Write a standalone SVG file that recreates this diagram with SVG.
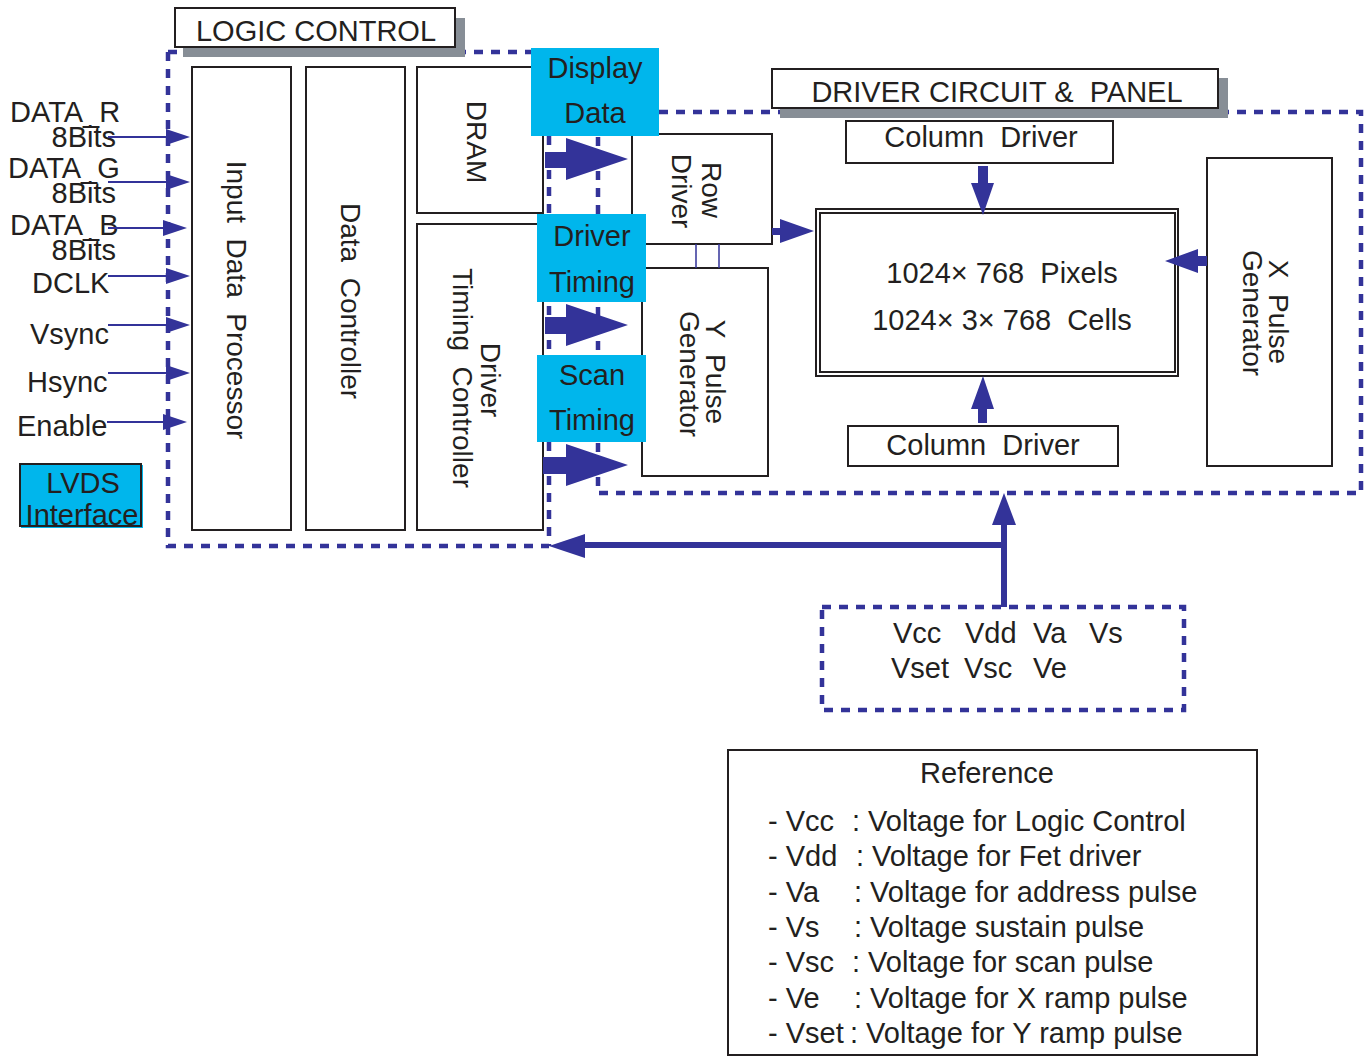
<svg xmlns="http://www.w3.org/2000/svg" width="1364" height="1057" viewBox="0 0 1364 1057">
<style>
text{font-family:"Liberation Sans",Arial,sans-serif;fill:#231f20;font-size:29px}
.r{font-size:28px;text-anchor:middle}
.m{text-anchor:middle}
.box{fill:#fff;stroke:#231f20;stroke-width:2}
.nb{fill:none;stroke:#231f20;stroke-width:2}
.cy{fill:#00b6ec}
.sh{fill:#878e96}
.dash{fill:none;stroke:#333399;stroke-width:4.5;stroke-dasharray:9 8}
.thin{stroke:#333399;stroke-width:2;fill:none}
.thick{stroke:#333399;stroke-width:6;fill:none}
.fb{fill:#333399}
</style>
<rect width="1364" height="1057" fill="#fff"/>

<!-- dashed boundaries -->
<g id="boundaries">
<path class="dash" d="M168,52 H531 M168,52 V546 H549 M549,136 V546"/>
<path class="dash" d="M659,112 H1361 V493 H598 V136"/>
<rect class="dash" x="822" y="607" width="362" height="103"/>
</g>

<!-- titles -->
<g id="logic-control-title">
<rect class="sh" x="183" y="18" width="282" height="39"/>
<rect class="box" x="175" y="8" width="280" height="39"/>
<text x="316" y="41" class="m">LOGIC CONTROL</text>
</g>
<g id="driver-circuit-title">
<rect class="sh" x="780" y="78" width="448" height="40"/>
<rect class="box" x="772" y="69" width="446" height="39"/>
<text x="997" y="102" class="m">DRIVER CIRCUIT &amp;&#160; PANEL</text>
</g>

<!-- logic control nodes -->
<g id="input-data-processor">
<rect class="box" x="192" y="67" width="99" height="463"/>
<text class="r" transform="translate(226.5,300) rotate(90)">Input&#160; Data&#160; Processor</text>
</g>
<g id="data-controller">
<rect class="box" x="306" y="67" width="99" height="463"/>
<text class="r" transform="translate(341,301) rotate(90)">Data&#160; Controller</text>
</g>
<g id="dram">
<rect class="box" x="417" y="67" width="126" height="146"/>
<text class="r" transform="translate(467,142) rotate(90)">DRAM</text>
</g>
<g id="driver-timing-controller">
<rect class="box" x="417" y="224" width="126" height="306"/>
<text class="r" transform="translate(481,380) rotate(90)">Driver</text>
<text class="r" transform="translate(453,378) rotate(90)">Timing&#160; Controller</text>
</g>

<!-- driver circuit nodes -->
<g id="row-driver">
<rect class="box" x="632" y="134" width="140" height="110"/>
<text class="r" transform="translate(702,190) rotate(90)">Row</text>
<text class="r" transform="translate(672,191) rotate(90)">Driver</text>
</g>
<g id="y-pulse-generator">
<rect class="box" x="642" y="268" width="126" height="208"/>
<text class="r" transform="translate(706,372) rotate(90)">Y&#160; Pulse</text>
<text class="r" transform="translate(680,374) rotate(90)">Generator</text>
</g>

<!-- cyan labels -->
<g id="display-data">
<rect class="cy" x="531" y="48" width="128" height="88"/>
<text x="595" y="78" class="m">Display</text>
<text x="595" y="123" class="m">Data</text>
</g>
<g id="driver-timing">
<rect class="cy" x="537" y="214" width="109" height="88"/>
<text x="592" y="246" class="m">Driver</text>
<text x="592" y="292" class="m">Timing</text>
</g>
<g id="scan-timing">
<rect class="cy" x="537" y="355" width="109" height="87"/>
<text x="592" y="385" class="m">Scan</text>
<text x="592" y="430" class="m">Timing</text>
</g>

<g id="column-driver-top">
<rect class="box" x="846" y="121" width="267" height="42"/>
<text x="981" y="147" class="m">Column&#160; Driver</text>
</g>
<g id="panel">
<rect class="box" x="816" y="209" width="362" height="167"/>
<rect class="nb" x="820" y="213" width="355" height="159"/>
<text x="1002" y="283" class="m">1024× 768&#160; Pixels</text>
<text x="1002" y="330" class="m">1024× 3× 768&#160; Cells</text>
</g>
<g id="column-driver-bottom">
<rect class="box" x="848" y="426" width="270" height="40"/>
<text x="983" y="455" class="m">Column&#160; Driver</text>
</g>
<g id="x-pulse-generator">
<rect class="box" x="1207" y="158" width="125" height="308"/>
<text class="r" transform="translate(1269,312) rotate(90)">X&#160; Pulse</text>
<text class="r" transform="translate(1243,313) rotate(90)">Generator</text>
</g>

<!-- power -->
<g id="power-supplies">
<text x="893" y="643">Vcc</text><text x="965" y="643">Vdd</text><text x="1033" y="643">Va</text><text x="1089" y="643">Vs</text>
<text x="891" y="678">Vset</text><text x="964" y="678">Vsc</text><text x="1033" y="678">Ve</text>
</g>

<!-- LVDS -->
<g id="lvds-interface">
<rect class="cy" x="21" y="465" width="122" height="63"/>
<rect class="nb" x="20" y="464" width="121" height="62"/>
<text x="83" y="493" class="m">LVDS</text>
<text x="82" y="525" class="m">Interface</text>
</g>

<!-- input labels -->
<g id="input-labels">
<text x="10" y="122">DATA_R</text>
<text x="116" y="147" text-anchor="end">8Bits</text>
<text x="8" y="178">DATA_G</text>
<text x="116" y="203" text-anchor="end">8Bits</text>
<text x="10" y="235">DATA_B</text>
<text x="116" y="260" text-anchor="end">8Bits</text>
<text x="32" y="293">DCLK</text>
<text x="30" y="344">Vsync</text>
<text x="27" y="392">Hsync</text>
<text x="17" y="436">Enable</text>
</g>

<!-- connectors -->
<g id="connectors">
<path class="thin" d="M108,137H168 M108,182H168 M108,228H165 M108,276H168 M108,325H168 M108,373H168 M107,422H165"/>
<path class="fb" d="M166,129L190,137L166,145Z M166,174L190,182L166,190Z M163,220L187,228L163,236Z M166,268L190,276L166,284Z M166,317L190,325L166,333Z M166,365L190,373L166,381Z M163,414L187,422L163,430Z"/>
<!-- big arrows -->
<path class="fb" d="M545,152H566V138L628,159L566,180V168H545Z"/>
<path class="fb" d="M545,317H566V304L628,325L566,346V334H545Z"/>
<path class="fb" d="M543,457H566V444L628,465L566,486V474H543Z"/>
<!-- row driver to panel -->
<path class="fb" d="M772,228H780V219L814,231L780,243V235H772Z"/>
<!-- column driver top to panel -->
<path class="fb" d="M978,166H988V183H994L983,215L971,183H978Z"/>
<!-- column driver bottom to panel -->
<path class="fb" d="M978,423H987V409H994L983,376L971,409H978Z"/>
<!-- x pulse to panel -->
<path class="fb" d="M1207,256V266H1198V273L1165,261L1198,249V256Z"/>
<!-- row/y pulse link -->
<path class="thin" style="stroke-width:1.5" d="M696,244V268 M719,244V268"/>
<!-- power distribution -->
<path class="thick" d="M1004,607V520 M1004,545H580"/>
<path class="fb" d="M1004,493L1016,525H992Z M549,546L585,534V558Z"/>
</g>

<!-- legend -->
<g id="legend">
<rect class="box" x="728" y="750" width="529" height="305"/>
<text x="987" y="783" class="m">Reference</text>
<text x="768" y="831">- Vcc</text><text x="852" y="831">: Voltage for Logic Control</text>
<text x="768" y="866">- Vdd</text><text x="856" y="866">: Voltage for Fet driver</text>
<text x="768" y="902">- Va</text><text x="854" y="902">: Voltage for address pulse</text>
<text x="768" y="937">- Vs</text><text x="854" y="937">: Voltage sustain pulse</text>
<text x="768" y="972">- Vsc</text><text x="852" y="972">: Voltage for scan pulse</text>
<text x="768" y="1008">- Ve</text><text x="854" y="1008">: Voltage for X ramp pulse</text>
<text x="768" y="1043">- Vset</text><text x="850" y="1043">: Voltage for Y ramp pulse</text>
</g>
</svg>
